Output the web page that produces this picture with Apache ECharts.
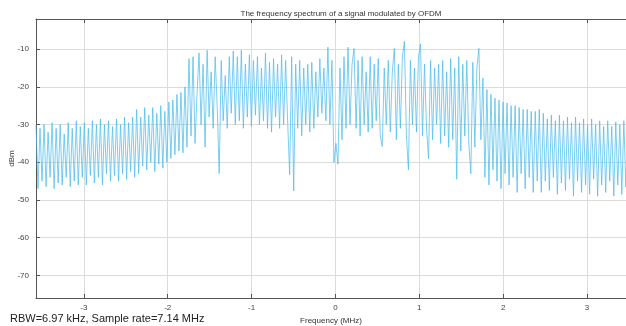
<!DOCTYPE html>
<html>
<head>
<meta charset="utf-8">
<script src="https://cdn.jsdelivr.net/npm/echarts@6/dist/echarts.min.js"></script>
<style>
    html, body { margin: 0; padding: 0; background: #fff; }
    #spectrum { width: 626px; height: 326px; }
</style>
</head>
<body>
<div id="spectrum"></div>
<script>
// frequency bins (MHz)
const freqStart = -3.57;
const freqStep = 0.024;
const xTicks = [-3, -2, -1, 0, 1, 2, 3];
const yTicks = [-70, -60, -50, -40, -30, -20, -10];

// power (dBm) left to right
const powerDbm = [
    // -3.57 .. -2.4
    -30,-47,-31,-45,-30,-46.5,-32,-44,-29.5,-47,-31,-45.5,-30,-46,-32.5,-44,-29.5,-46.5,-31,-45,
    -29,-46,-30.5,-44,-29.5,-46,-31,-43.5,-29,-45.5,-30,-44,-28.5,-46,-30,-43,-29,-45,-30.5,-43.5,
    -28.5,-45,-30,-43,-28,-44.5,-29.5,-42.5,-28,-44,
    // -2.4 .. -1.8
    -26,-43,-28,-41,-25.5,-42,-27.5,-40,-25.5,-42.5,-27,-40.5,-25,-41.5,-26.5,
    -40,-24,-39,-23.5,-38,-22,-37,-21.5,-37.5,-20,
    -36,-12.5,-33,-12,-35,-22,
    // -1.6 .. -1.2
    -11,-30,-14,-36,-10.3,-28,-16,-31,-12,-25,-43,-13,-29,-17,-31,-12,-27,-10.5,-30,
    // -1.2 .. 0
    -12,-29,-10.3,-31,-14,-28,-11.5,-30.5,-13,-27.5,
    -12,-30,-15,-29,-11,-31,-13.5,-32,-12.5,-28,
    -14,-31,-11.5,-30,-13,-29,-43.3,-12,-47.6,-14,
    -31,-13,-33,-15,-30,-14,-32,-13.5,-31,-16,
    -28,-12.5,-27,-15,-29,-9.5,-30,-13,-40,-35,
    // 0 .. 1.2
    -40.5,-15,-34,-12,-31,-9.5,-30,-14,-9.8,-31,
    -13,-33,-12,-30,-16,-32,-12,-31,-14,-29,
    -12.5,-33,-35.8,-15,-30,-13,-32,-16,-9.8,-34,
    -14,-31,-12,-7.9,-33,-42,-13,-30,-15,-32,
    -12,-8.6,-33,-14,-31,-39,-13,-34,-15,-30,
    // 1.2 .. 1.7
    -14,-35,-13,-33,-16,-36,-12.5,-34,-15,-44.5,-12,-37,-14,-33,-13,-35,-43,-13.5,-36,-15,-9.8,-34,
    // 1.7 .. 2.4
    -17.7,-44,-20.7,-46,-22,-42,-23,-45,-23.5,-47,-24,-43,-24.3,-46,-25,-44,-25,-48,-25.5,-43,
    -26,-47,-26,-44,-26.5,-48,-26.5,-45,-26,
    // 2.4 .. 3.5
    -48,-27,-45,-28.5,-47.5,-27.5,-44,-29,-48.5,-27.5,-45.5,-29,-47.5,-28,-44.5,-29.5,-49,-28,-45,-29.5,
    -48,-28.5,-46,-30,-48.5,-28.5,-44.5,-30,-49,-29,-46,-30.5,-48,-29,-45,-30.5,-49,-29.3,-46,-30,
    -48.5,-29,-46.5,-29.5
];

const font = 'Liberation Sans, Arial, sans-serif';
const seriesData = powerDbm.map((v, i) => [freqStart + i * freqStep, v]);

const chart = echarts.init(document.getElementById('spectrum'));
chart.setOption({
    animation: false,
    backgroundColor: '#fff',
    textStyle: { fontFamily: font },
    title: {
        text: 'The frequency spectrum of a signal modulated by OFDM',
        left: 336,
        top: 5,
        textAlign: 'center',
        textStyle: { fontSize: 8, fontWeight: 'normal', color: '#333', fontFamily: font }
    },
    grid: { left: 36, right: 0, top: 19, bottom: 28, containLabel: false, outerBoundsMode: 'none' },
    xAxis: [
        {
            type: 'value',
            min: -3.57,
            max: 3.464,
            name: 'Frequency (MHz)',
            nameLocation: 'middle',
            nameGap: 15,
            nameTextStyle: { fontSize: 8, color: '#333' },
            axisLine: { onZero: false, lineStyle: { color: '#555' } },
            axisTick: { inside: true, length: 4, customValues: xTicks, lineStyle: { color: '#555' } },
            axisLabel: { fontSize: 8, color: '#444', margin: 6, customValues: xTicks },
            splitLine: { show: true, lineStyle: { color: '#dcdcdc' } }
        },
        {
            type: 'value',
            position: 'top',
            min: -3.57,
            max: 3.464,
            axisLine: { show: true, onZero: false, lineStyle: { color: '#555' } },
            axisTick: { inside: true, length: 4, customValues: xTicks, lineStyle: { color: '#555' } },
            axisLabel: { show: false },
            splitLine: { show: false }
        }
    ],
    yAxis: {
        type: 'value',
        min: -76,
        max: -2,
        name: 'dBm',
        nameLocation: 'middle',
        nameGap: 20,
        nameMoveOverlap: false,
        nameTextStyle: { fontSize: 8, color: '#333' },
        axisLine: { show: true, onZero: false, lineStyle: { color: '#555' } },
        axisTick: { show: true, inside: true, length: 4, customValues: yTicks, lineStyle: { color: '#555' } },
        axisLabel: { fontSize: 8, color: '#444', margin: 7, customValues: yTicks },
        splitLine: { show: true, lineStyle: { color: '#dcdcdc' } }
    },
    graphic: [
        {
            type: 'text',
            left: 10,
            top: 313,
            style: { text: 'RBW=6.97 kHz, Sample rate=7.14 MHz', fontSize: 11, fill: '#222', fontFamily: font }
        }
    ],
    series: [
        {
            type: 'line',
            data: seriesData,
            showSymbol: false,
            sampling: false,
            lineStyle: { width: 1, color: '#4dbeee', opacity: 0.75 },
            silent: true
        }
    ]
});
</script>
</body>
</html>
